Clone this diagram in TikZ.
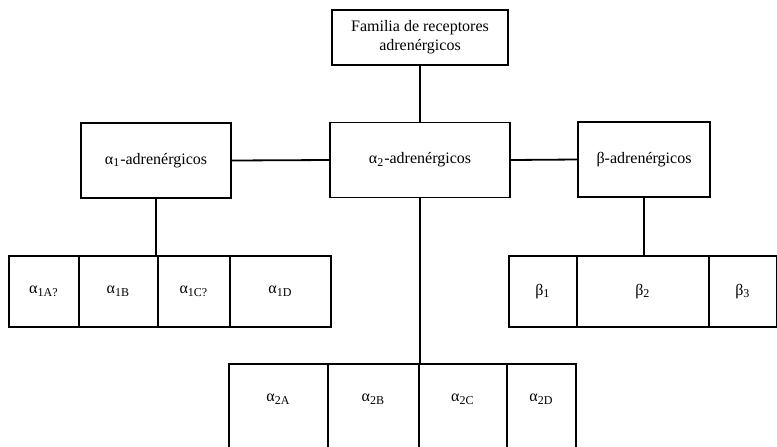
\documentclass[tikz,border=0pt]{standalone}
\usepackage{fontspec}
\setmainfont{Liberation Serif}

\begin{document}
\begin{tikzpicture}[x=0.5pt, y=-0.5pt, line width=0.9pt]
\tikzset{box/.style = {draw, inner sep=0pt, minimum height=37.5pt, align=center, font=\fontsize{8}{9.5}\selectfont}}
\tikzset{cell/.style = {draw, inner sep=0pt, anchor=north west, minimum height=35.5pt, font=\fontsize{8}{9.5}\selectfont}}
\tikzset{opencell/.style = {cell, minimum height=0pt, text height=19pt, text depth=30pt}}

\useasboundingbox (0,0) rectangle (777,446);
\clip (0,0) rectangle (777,446);

\node[box, minimum width=88pt, minimum height=27.5pt] (fam) at (420,37.5) {Familia de receptores\\adrenérgicos};

\node[box, minimum width=75pt] (a1) at (156,160.5) {α\textsubscript{1}-adrenérgicos};
\node[box, minimum width=90pt] (a2) at (420,160) {α\textsubscript{2}-adrenérgicos};
\node[box, minimum width=66pt] (b) at (644,159.5) {β-adrenérgicos};

% subtipos
\foreach \l/\r/\n/\t in {8/78/a1A/{1A?}, 78/157/a1B/{1B}, 157/229/a1C/{1C?}, 229/330/a1D/{1D}}
   {\node[cell, minimum width={(\r-\l)*0.5pt}] (\n) at (\l,255) {α\textsubscript{\t}};}

\foreach \l/\r/\n/\t in {508/576/b1/1, 576/708/b2/2, 708/776/b3/3}
   {\node[cell, minimum width={(\r-\l)*0.5pt}] (\n) at (\l,255) {β\textsubscript{\t}};}

\foreach \l/\r/\n/\t in {228/327/a2A/{2A}, 327/418/a2B/{2B}, 418/506/a2C/{2C}, 506/575/a2D/{2D}}
   {\node[opencell, minimum width={(\r-\l)*0.5pt}] (\n) at (\l,363) {α\textsubscript{\t}};}

\draw (fam.south) -- (a2.north);
\draw (a1.east) -- (a2.west);
\draw (a2.east) -- (b.west);
\draw (a1.south) -- (a1.south |- a1C.north);
\draw (a2.south) -- (a2.south |- a2C.north);
\draw (b.south) -- (b.south |- b2.north);

\end{tikzpicture}
\end{document}
